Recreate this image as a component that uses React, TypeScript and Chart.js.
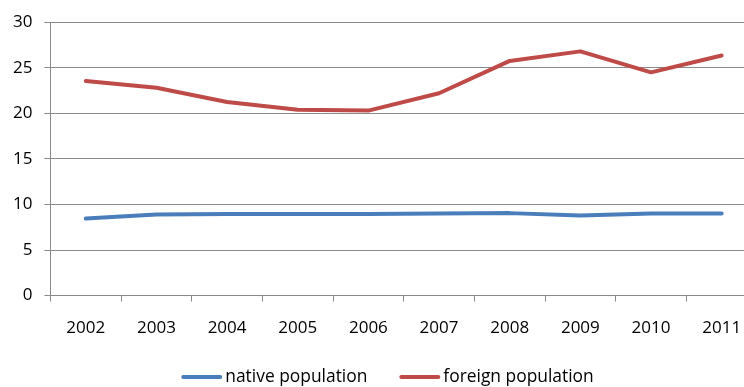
import React, { useEffect, useRef } from "react";
import { Chart, registerables } from "chart.js";

Chart.register(...registerables);

const years = ["2002", "2003", "2004", "2005", "2006", "2007", "2008", "2009", "2010", "2011"];
const nativePopulation = [8.45, 8.9, 8.95, 8.95, 8.95, 9.0, 9.05, 8.8, 9.0, 9.0];
const foreignPopulation = [23.55, 22.8, 21.25, 20.4, 20.3, 22.2, 25.75, 26.8, 24.5, 26.35];

const FONT = "'Open Sans', sans-serif";
const GRID = "#8a8a8a";

// Bottom legend: a short line sample followed closely by the series name.
const lineLegend = {
  id: "lineLegend",
  afterDraw(chart: any) {
    const { ctx, width } = chart;
    const sample = 41;
    const textGap = 3;
    const itemGap = 32;
    const y = 377;
    ctx.save();
    ctx.font = `17.4px ${FONT}`;
    const items = chart.data.datasets.map((ds: any) => ({
      label: ds.label as string,
      color: ds.borderColor as string,
      w: sample + textGap + ctx.measureText(ds.label).width,
    }));
    const total =
      items.reduce((s: number, it: any) => s + it.w, 0) + itemGap * (items.length - 1);
    let x = width / 2 - total / 2;
    ctx.textBaseline = "middle";
    ctx.textAlign = "left";
    for (const it of items) {
      ctx.strokeStyle = it.color;
      ctx.lineWidth = 4;
      ctx.lineCap = "round";
      ctx.beginPath();
      ctx.moveTo(x + 2, y);
      ctx.lineTo(x + sample - 2, y);
      ctx.stroke();
      ctx.fillStyle = "#000";
      ctx.fillText(it.label, x + sample + textGap, y);
      x += it.w + itemGap;
    }
    ctx.restore();
  },
};

export default function App() {
  const canvasRef = useRef<HTMLCanvasElement | null>(null);

  useEffect(() => {
    const canvas = canvasRef.current;
    if (!canvas) return;
    const chart = new Chart(canvas, {
      type: "line",
      data: {
        labels: years,
        datasets: [
          {
            label: "native population",
            data: nativePopulation,
            borderColor: "#4a7ebb",
            backgroundColor: "#4a7ebb",
            borderWidth: 4,
            pointRadius: 0,
            tension: 0,
            borderCapStyle: "round",
            borderJoinStyle: "round",
          },
          {
            label: "foreign population",
            data: foreignPopulation,
            borderColor: "#be4b48",
            backgroundColor: "#be4b48",
            borderWidth: 4,
            pointRadius: 0,
            tension: 0,
            borderCapStyle: "round",
            borderJoinStyle: "round",
          },
        ],
      },
      options: {
        responsive: false,
        animation: false,
        devicePixelRatio: 1,
        layout: { padding: { left: 1, right: 18, top: 21, bottom: 33 } },
        plugins: {
          tooltip: { enabled: false },
          legend: { display: false },
        },
        scales: {
          x: {
            offset: true,
            grid: {
              offset: true,
              drawOnChartArea: false,
              drawTicks: true,
              tickLength: 6,
              color: GRID,
            },
            border: { color: GRID },
            ticks: {
              color: "#000",
              padding: 16,
              maxRotation: 0,
              font: { family: FONT, size: 17 },
            },
          },
          y: {
            min: 0,
            max: 30,
            grid: { color: GRID, tickLength: 6 },
            border: { color: GRID },
            ticks: {
              stepSize: 5,
              color: "#000",
              padding: 12,
              font: { family: FONT, size: 17 },
            },
          },
        },
      },
      plugins: [lineLegend],
    });
    return () => chart.destroy();
  }, []);

  return (
    <div
      style={{
        position: "fixed",
        left: 0,
        top: 0,
        width: 744,
        height: 387,
        overflow: "hidden",
        background: "#fff",
      }}
    >
      <canvas ref={canvasRef} width={775} height={387} style={{ display: "block" }} />
    </div>
  );
}
